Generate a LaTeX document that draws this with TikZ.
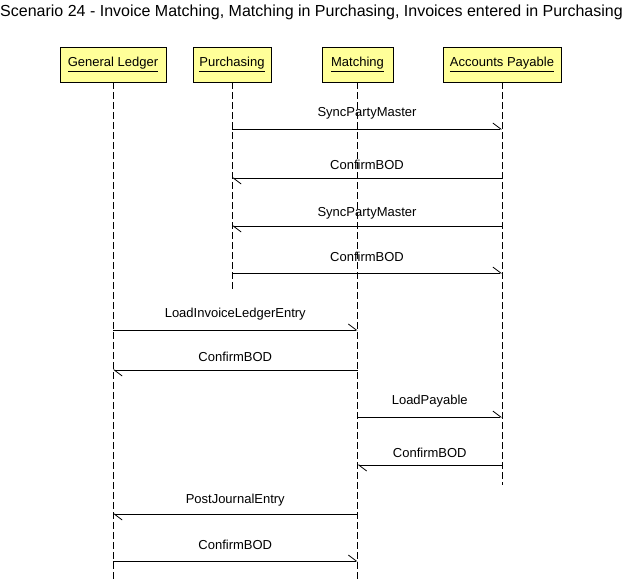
\documentclass[tikz,border=0pt]{standalone}
\usepackage{fontspec}
\setmainfont{Liberation Sans}
\usetikzlibrary{arrows.meta}
\definecolor{actorfill}{RGB}{255,255,153}
\begin{document}
\begin{tikzpicture}[x=1pt,y=-1pt,
  actor/.style={draw=black, line width=0.8pt, fill=actorfill, minimum height=35pt, inner sep=0pt, font=\fontsize{13}{15}\selectfont},
  life/.style={draw=black, line width=0.8pt, dash pattern=on 7pt off 3pt},
  msg/.style={draw=black, line width=0.8pt, -{Straight Barb[left,length=8pt,width=12pt,line width=0.8pt]}},
  lbl/.style={midway, yshift=16pt, font=\fontsize{13}{15}\selectfont, inner sep=0pt}
]
\useasboundingbox (0,0) rectangle (623,579);
\node[font=\fontsize{16}{19}\selectfont, inner sep=0pt] (title) at (311.5,12) {Scenario 24 - Invoice Matching, Matching in Purchasing, Invoices entered in Purchasing};

\node[actor, minimum width=106pt] (gl) at (113,64.5) {\underline{General Ledger}};
\node[actor, minimum width=78pt] (pu) at (232,64.5) {\underline{Purchasing}};
\node[actor, minimum width=71pt] (ma) at (357.5,64.5) {\underline{Matching}};
\node[actor, minimum width=118pt] (ap) at (502,64.5) {\underline{Accounts Payable}};

\draw[life] (gl.south) -- (gl.south |- 0,579);
\draw[life] (pu.south) -- (pu.south |- 0,290);
\draw[life] (ma.south) -- (ma.south |- 0,579);
\draw[life] (ap.south) -- (ap.south |- 0,485);

\draw[msg] (pu.south |- 0,129) -- node[lbl] {SyncPartyMaster} (ap.south |- 0,129);
\draw[msg] (ap.south |- 0,178) -- node[lbl, yshift=-3pt] {ConfirmBOD} (pu.south |- 0,178);
\draw[msg] (ap.south |- 0,226) -- node[lbl, yshift=-3pt] {SyncPartyMaster} (pu.south |- 0,226);
\draw[msg] (pu.south |- 0,273) -- node[lbl] {ConfirmBOD} (ap.south |- 0,273);
\draw[msg] (gl.south |- 0,330) -- node[lbl] {LoadInvoiceLedgerEntry} (ma.south |- 0,330);
\draw[msg] (ma.south |- 0,370) -- node[lbl, yshift=-3pt] {ConfirmBOD} (gl.south |- 0,370);
\draw[msg] (ma.south |- 0,417) -- node[lbl] {LoadPayable} (ap.south |- 0,417);
\draw[msg] (ap.south |- 0,465) -- node[lbl, yshift=-4pt] {ConfirmBOD} (ma.south |- 0,465);
\draw[msg] (ma.south |- 0,514) -- node[lbl, yshift=-2pt] {PostJournalEntry} (gl.south |- 0,514);
\draw[msg] (gl.south |- 0,561) -- node[lbl] {ConfirmBOD} (ma.south |- 0,561);
\end{tikzpicture}
\end{document}
